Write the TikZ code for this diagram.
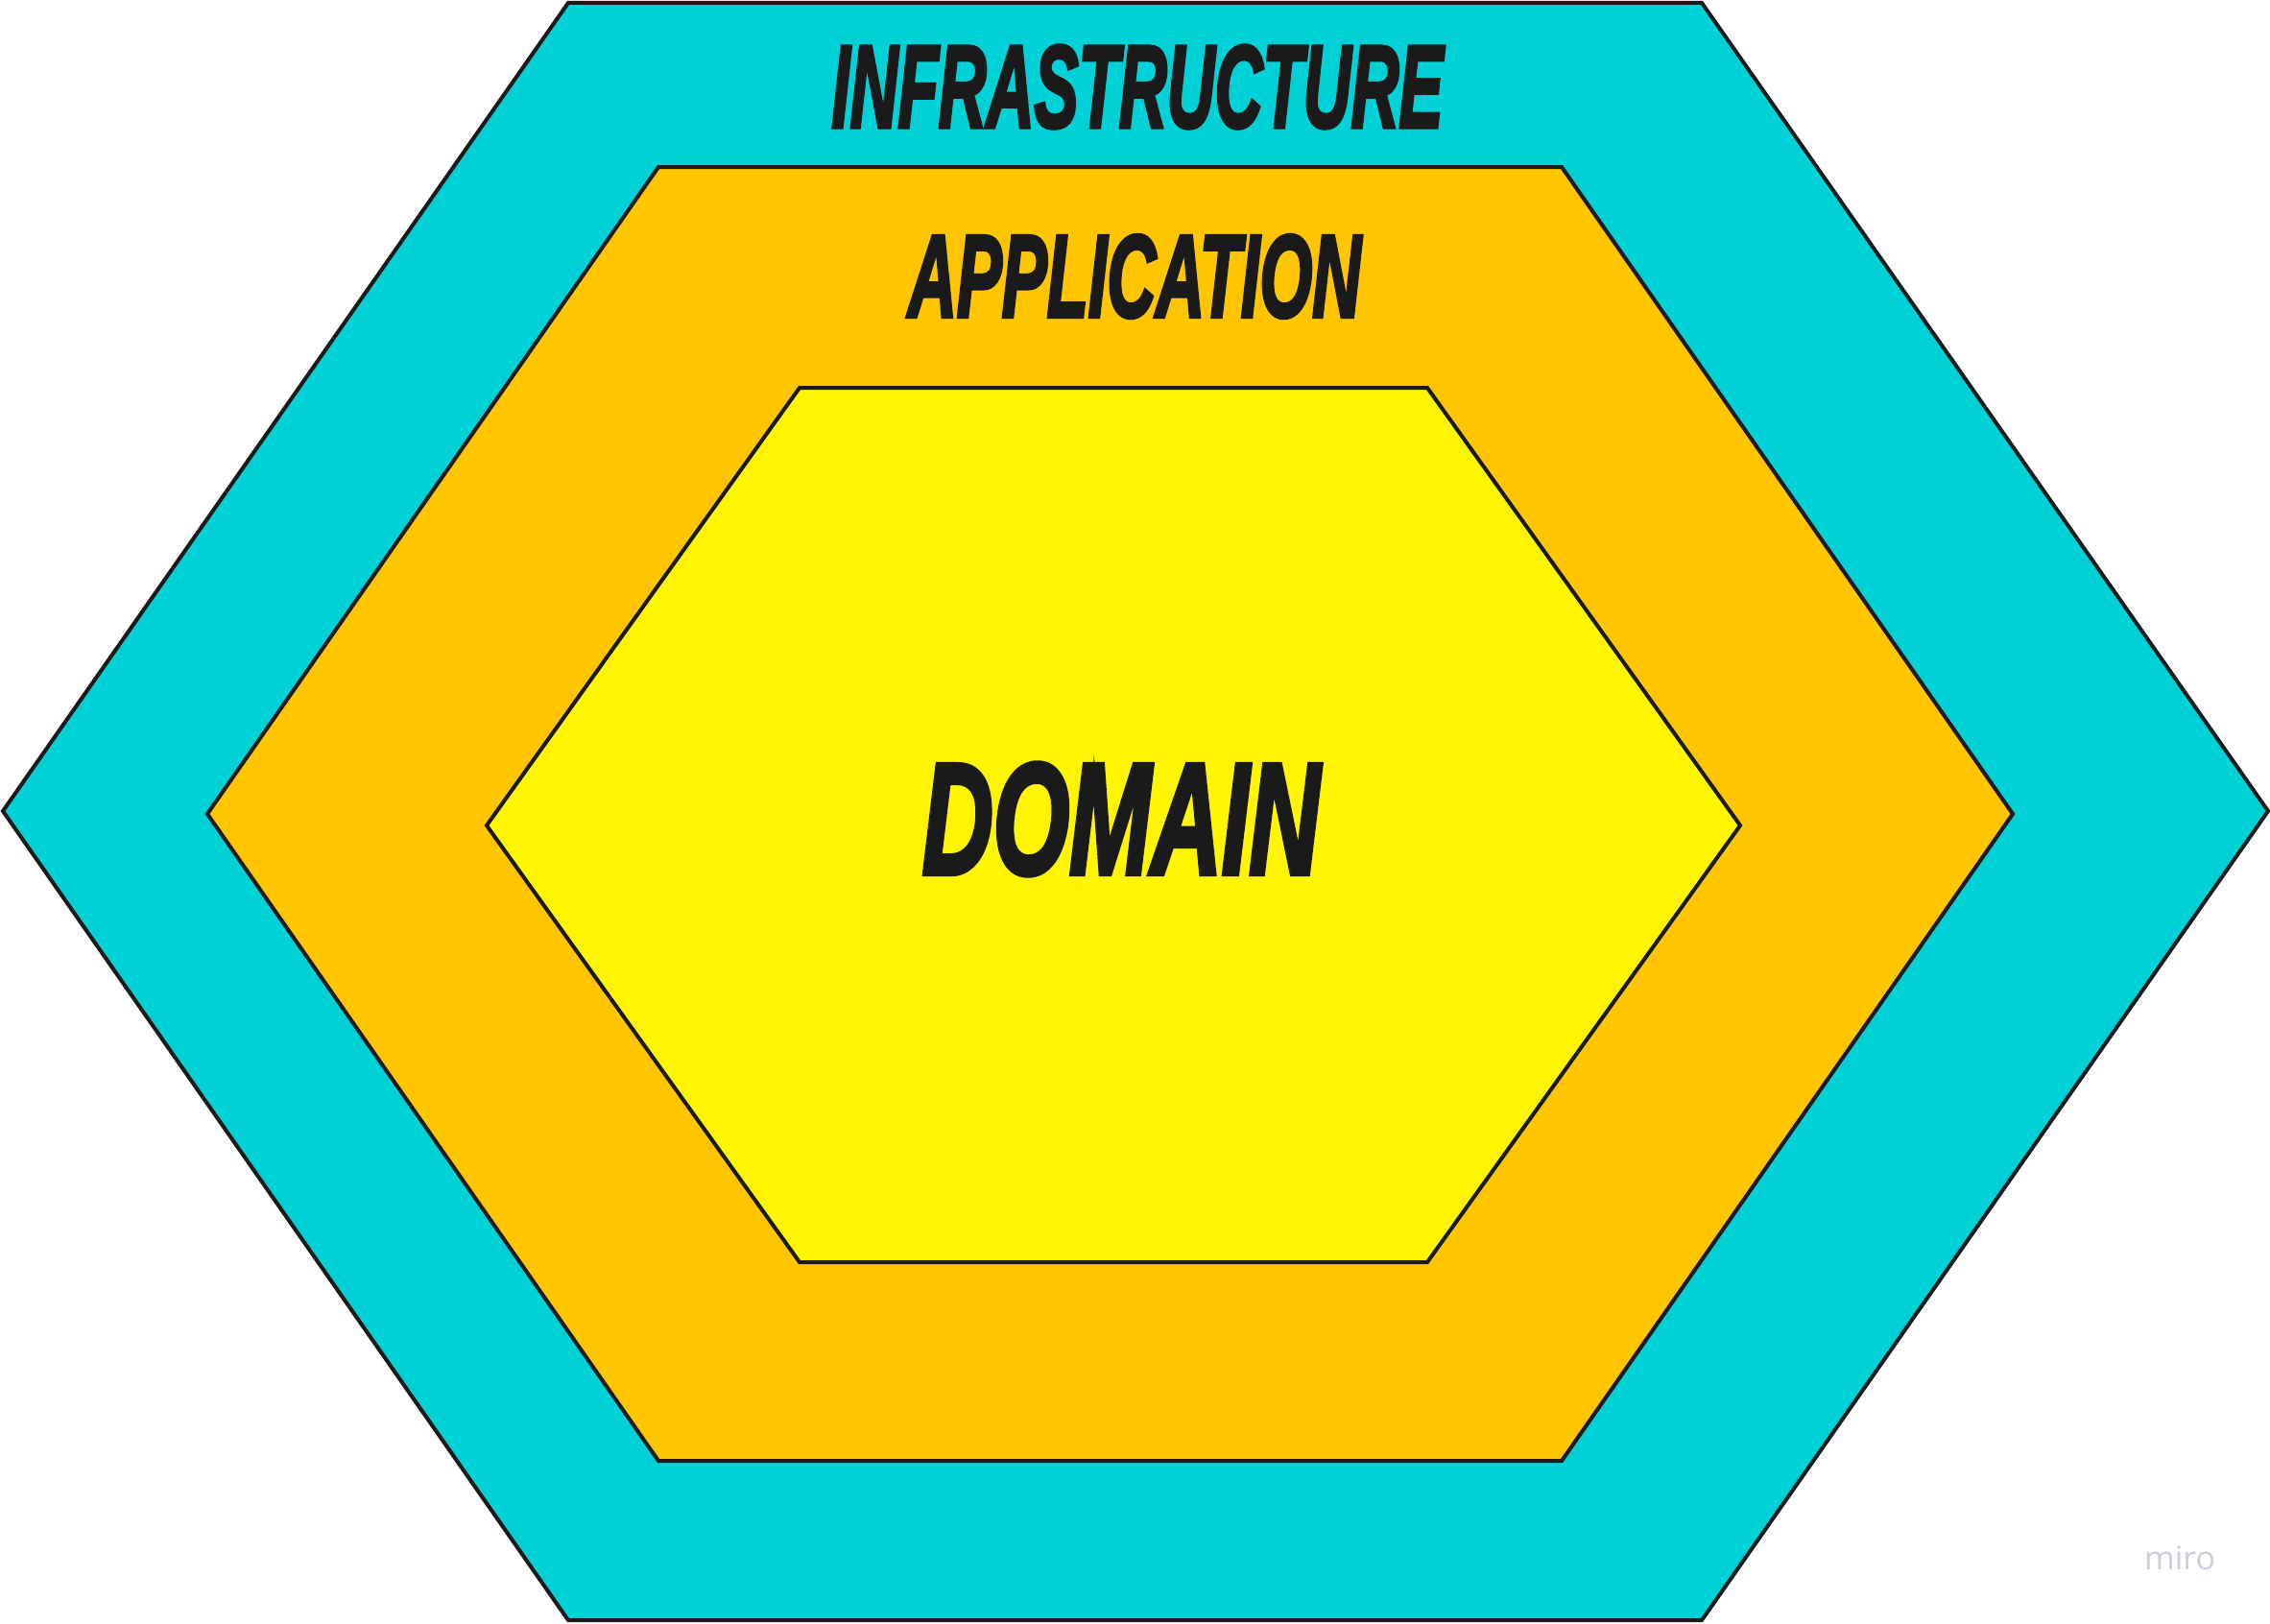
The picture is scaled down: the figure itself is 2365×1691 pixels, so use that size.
\documentclass[tikz,border=0pt]{standalone}
\usepackage{fontspec}
\setmainfont{Liberation Sans}
\newfontfamily\labelFont[FakeBold=3.5]{Liberation Sans Bold Italic}
\newfontfamily\miroFont{Open Sans}
\definecolor{infracyan}{HTML}{00D1D6}
\definecolor{apporange}{HTML}{FFC600}
\definecolor{domyellow}{HTML}{FFF500}
\definecolor{inkblack}{HTML}{1A1A1A}
\definecolor{mirogray}{HTML}{CDCDDC}
\tikzset{
  hexlayer/.style={draw=inkblack, line width=4pt, line join=miter},
  layerlabel/.style={inner sep=0pt, text=inkblack, font=\labelFont},
}
\begin{document}
\begin{tikzpicture}[x=1pt,y=-1pt]
\useasboundingbox (0,0) rectangle (2365,1691);
% outer hexagon
\draw[hexlayer, fill=infracyan] (592,3) -- (1773,3) -- (2363,845) -- (1773,1688) -- (592,1688) -- (3,845) -- cycle;
% middle hexagon
\draw[hexlayer, fill=apporange] (686,174) -- (1627,174) -- (2097,848) -- (1627,1522) -- (686,1522) -- (216,848) -- cycle;
% inner hexagon
\draw[hexlayer, fill=domyellow] (833,404) -- (1487,404) -- (1813,860) -- (1487,1315) -- (833,1315) -- (507,860) -- cycle;
% labels
\node[layerlabel] (infra) at (1185,90.5) {\resizebox{637pt}{85pt}{INFRASTRUCTURE}};
\node[layerlabel] (app) at (1182,288) {\resizebox{472pt}{85pt}{APPLICATION}};
\node[layerlabel] (dom) at (1168,853.5) {\resizebox{414pt}{115pt}{DOMAIN}};
\node[inner sep=0pt, text=mirogray, font=\miroFont\fontsize{34}{40}\selectfont, anchor=base west] (miro) at (2234,1635) {miro};
\end{tikzpicture}
\end{document}
